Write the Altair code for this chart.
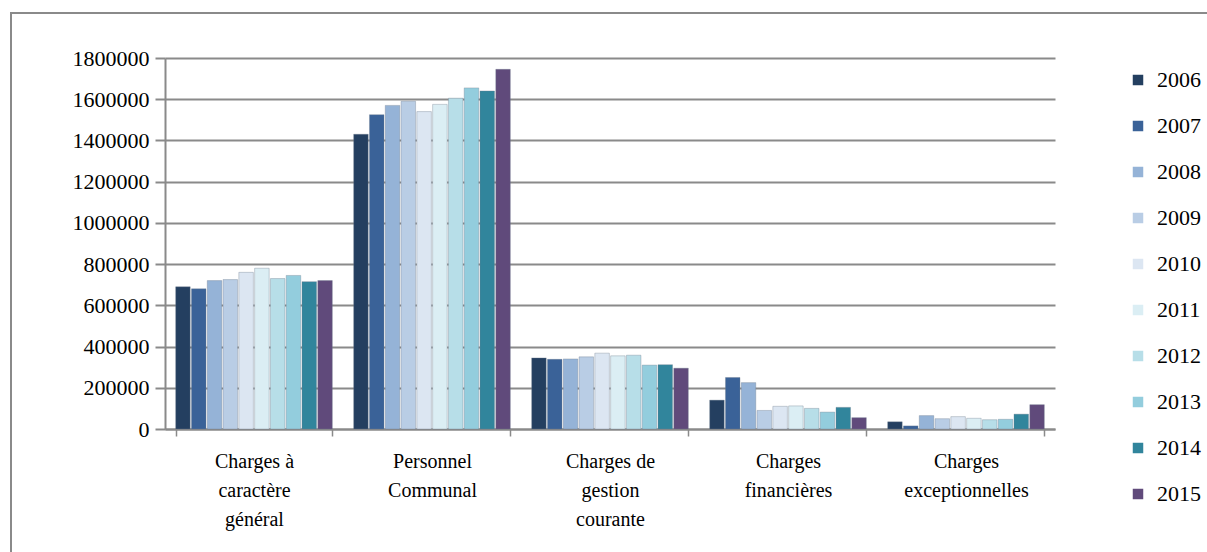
import altair as alt
import pandas as pd

categories = [
    "Charges à|caractère|général",
    "Personnel|Communal",
    "Charges de|gestion|courante",
    "Charges|financières",
    "Charges|exceptionnelles",
]
years = ["2006", "2007", "2008", "2009", "2010", "2011", "2012", "2013", "2014", "2015"]

v_caractere = [690000, 680000, 720000, 725000, 760000, 780000, 730000, 745000, 715000, 720000]
v_personnel = [1430000, 1525000, 1570000, 1590000, 1540000, 1575000, 1605000, 1655000, 1640000, 1745000]
v_gestion = [345000, 338000, 340000, 350000, 368000, 355000, 358000, 310000, 312000, 295000]
v_financieres = [140000, 250000, 225000, 90000, 110000, 112000, 100000, 82000, 105000, 55000]
v_exception = [35000, 15000, 65000, 50000, 60000, 52000, 45000, 47000, 72000, 118000]

colors = ["#243F60", "#3A6298", "#95B3D7", "#B9CDE5", "#DCE6F2",
          "#DBEEF4", "#B7DEE8", "#93CDDD", "#31859C", "#604A7B"]

series = [v_caractere, v_personnel, v_gestion, v_financieres, v_exception]
rows = []
for cat, vals in zip(categories, series):
    for y, v in zip(years, vals):
        rows.append({"cat": cat, "year": y, "value": v})
df = pd.DataFrame(rows)

FONT = "Liberation Serif, 'Times New Roman', DejaVu Serif, serif"

frame = alt.Chart(pd.DataFrame({"a": [0]})).mark_rect(
    fill="transparent", stroke="#8a8a8a", strokeWidth=2
).encode(x=alt.value(-154), x2=alt.value(1100), y=alt.value(-45), y2=alt.value(600))

bars = alt.Chart(df).mark_bar(stroke="#6f7f8f", strokeWidth=0.6, strokeOpacity=0.6).encode(
    x=alt.X("cat:N", sort=categories, title=None,
            scale=alt.Scale(paddingInner=0.12, paddingOuter=0.06),
            axis=alt.Axis(labelExpr="split(datum.label, '|')", labelAngle=0,
                          labelFont=FONT, labelFontSize=20, labelLineHeight=29,
                          labelColor="#000000", labelPadding=15, labelBaseline="top",
                          tickBand="extent", tickColor="#8a8a8a", tickSize=7,
                          tickWidth=1.5, domainColor="#8a8a8a", domainWidth=2,
                          grid=False)),
    xOffset=alt.XOffset("year:N", sort=years, scale=alt.Scale(paddingInner=0.08)),
    y=alt.Y("value:Q", title=None,
            scale=alt.Scale(domain=[0, 1800000], nice=False),
            axis=alt.Axis(values=list(range(0, 1800001, 200000)), format="d",
                          labelFont=FONT, labelFontSize=22, labelColor="#000000",
                          labelPadding=6, tickSize=10, tickColor="#8a8a8a",
                          tickWidth=2, domainColor="#8a8a8a", domainWidth=2,
                          gridColor="#8a8a8a", gridWidth=2)),
    color=alt.Color("year:N", sort=years,
                    scale=alt.Scale(domain=years, range=colors),
                    legend=alt.Legend(title=None, orient="none", legendX=962, legendY=11,
                                      symbolType="square", symbolSize=110,
                                      symbolStrokeWidth=0, labelFont=FONT,
                                      labelFontSize=22, labelColor="#000000",
                                      rowPadding=24, labelOffset=8)),
)

chart = alt.layer(frame, bars).properties(
    width=890, height=371,
    autosize=alt.AutoSizeParams(type="none"),
    padding={"left": 165, "top": 58, "right": 152, "bottom": 123},
).configure(background="#ffffff").configure_view(strokeWidth=0, stroke="transparent")

chart.save("out.html", embed_options={"renderer": "svg", "actions": False})
